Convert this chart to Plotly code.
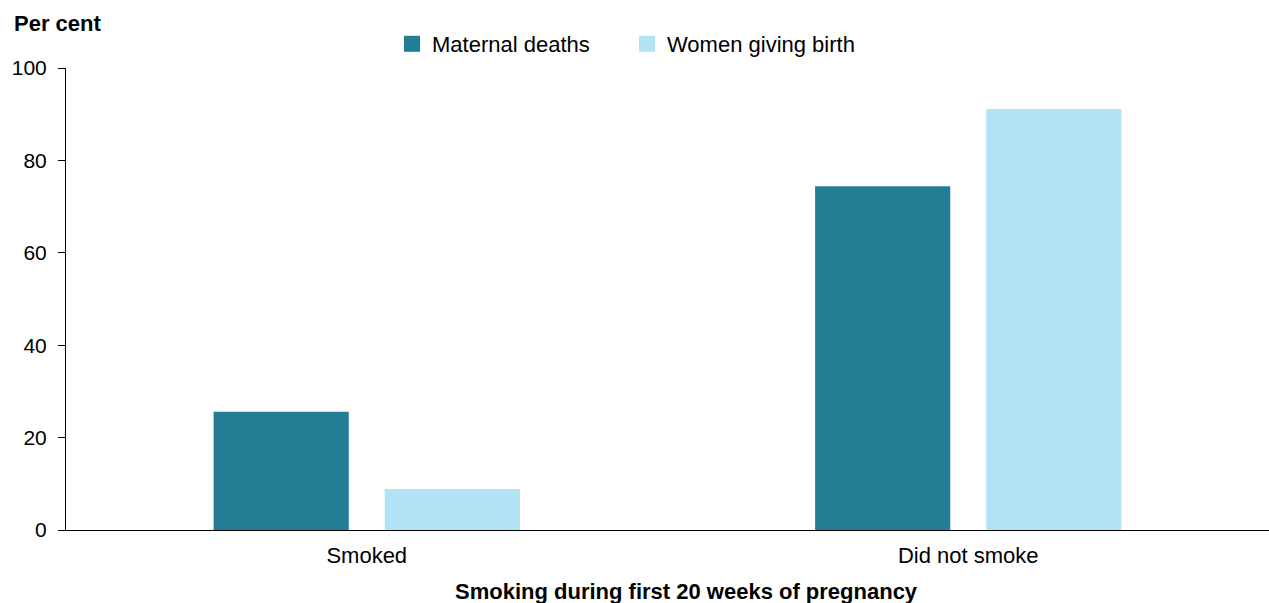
import plotly.graph_objects as go

categories = ["Smoked", "Did not smoke"]
maternal_deaths = [25.6, 74.4]
women_giving_birth = [8.9, 91.1]
y_ticks = [0, 20, 40, 60, 80, 100]

DARK = "#237E95"
LIGHT = "#B3E2F5"
FONT = "Liberation Sans, Arial, sans-serif"

fig = go.Figure()
fig.add_trace(go.Bar(x=categories, y=maternal_deaths, name="Maternal deaths",
                     marker=dict(color=DARK, line=dict(width=0)), showlegend=False))
fig.add_trace(go.Bar(x=categories, y=women_giving_birth, name="Women giving birth",
                     marker=dict(color=LIGHT, line=dict(width=0)), showlegend=False))
# legend proxies with larger square swatches
fig.add_trace(go.Scatter(x=[None], y=[None], mode="markers", name="Maternal deaths",
                         marker=dict(symbol="square", size=18, color=DARK)))
fig.add_trace(go.Scatter(x=[None], y=[None], mode="markers", name="Women giving birth",
                         marker=dict(symbol="square", size=18, color=LIGHT)))

L, R, T, B = 66, 0, 68, 73
W, H = 1269, 603
pw = W - L - R
ph = H - T - B

fig.update_layout(
    width=W, height=H,
    margin=dict(l=L, r=R, t=T, b=B, pad=0),
    paper_bgcolor="white", plot_bgcolor="white",
    barmode="group", bargap=0.431, bargroupgap=0.21,
    font=dict(family=FONT, size=22, color="#000000"),
    showlegend=True,
    legend=dict(orientation="h", x=(392 - L) / pw, xanchor="left",
                y=(H - B - 44) / ph, yanchor="middle",
                font=dict(size=22), itemwidth=30, traceorder="normal",
                entrywidth=190, bgcolor="rgba(0,0,0,0)"),
    xaxis=dict(showline=True, linecolor="#000000", linewidth=1, ticks="",
               showgrid=False, tickfont=dict(size=22), fixedrange=True,
               ticklabelstandoff=6),
    yaxis=dict(range=[0, 100], tickvals=y_ticks, showline=True, linecolor="#000000",
               linewidth=1, ticks="outside", ticklen=7, tickcolor="#000000",
               showgrid=False, zeroline=False, tickfont=dict(size=21), ticklabelstandoff=7),
    annotations=[
        dict(text="<b>Per cent</b>", x=(12 - L) / pw, y=(H - B - 23) / ph,
             xref="paper", yref="paper", xanchor="left", yanchor="middle",
             showarrow=False, font=dict(size=22)),
        dict(text="<b>Smoking during first 20 weeks of pregnancy</b>",
             x=(686 - L) / pw, y=(H - B - 591) / ph, xref="paper", yref="paper",
             xanchor="center", yanchor="middle", showarrow=False, font=dict(size=22)),
    ],
)

fig.write_html("out.html",
               post_script="document.documentElement.style.overflow='hidden';"
                           "document.body.style.overflow='hidden';"
                           "document.body.style.margin='0';")
